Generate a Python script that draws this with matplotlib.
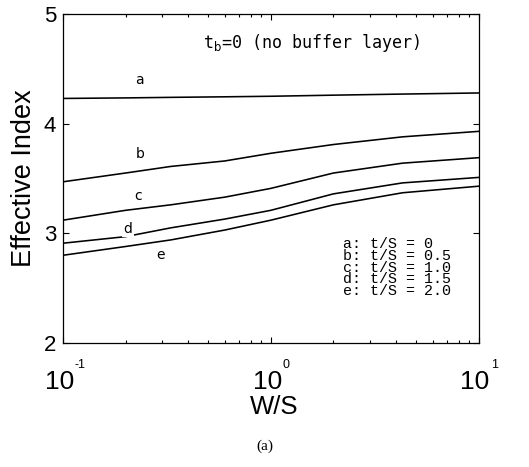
import matplotlib
matplotlib.use("Agg")
import matplotlib.pyplot as plt
import numpy as np

# W/S sample points and effective index curves
ws = [0.1, 0.2, 0.33, 0.6, 1.0, 2.0, 4.3, 10.0]
n_a = [4.23, 4.235, 4.24, 4.245, 4.25, 4.26, 4.27, 4.28]
n_b = [3.47, 3.55, 3.61, 3.66, 3.73, 3.81, 3.88, 3.93]
n_c = [3.12, 3.21, 3.26, 3.33, 3.41, 3.55, 3.64, 3.69]
n_d = [2.91, 2.97, 3.05, 3.13, 3.21, 3.36, 3.46, 3.51]
n_e = [2.80, 2.88, 2.94, 3.03, 3.12, 3.26, 3.37, 3.43]
curves = [n_a, n_b, n_c, n_d, n_e]

labels = ["a", "b", "c", "d", "e"]
label_x = [0.234, 0.234, 0.229, 0.205, 0.293]
label_y = [4.40, 3.72, 3.34, 3.04, 2.80]

legend_lines = ["a: t/S = 0", "b: t/S = 0.5", "c: t/S = 1.0",
                "d: t/S = 1.5", "e: t/S = 2.0"]

x_ticks = [0.1, 1, 10]
x_exps = ["-1", "0", "1"]
y_ticks = [2, 3, 4, 5]

plt.rcParams['font.family'] = ['Liberation Sans', 'DejaVu Sans']

fig = plt.figure(figsize=(5.29, 4.67), dpi=100)
ax = fig.add_axes([0.119, 0.2655, 0.786, 0.7045])

for n in curves:
    ax.plot(ws, n, color='black', lw=1.15)

for lab, x, y in zip(labels, label_x, label_y):
    bg = dict(facecolor='white', edgecolor='none', pad=1) if lab == "d" else None
    ax.text(x, y, lab, fontsize=10, ha='center', va='center',
            family='DejaVu Sans', bbox=bg)

ax.text(1.57, 4.735, r"t$_\mathrm{b}$=0 (no buffer layer)", fontsize=12,
        ha='center', va='center', family='DejaVu Sans Mono')

ax.text(2.22, 2.967, "\n".join(legend_lines), fontsize=10.8,
        ha='left', va='top', multialignment='left',
        family='Liberation Mono', linespacing=0.8)

ax.set_xscale('log')
ax.set_xlim(0.1, 10)
ax.set_ylim(2, 5)
ax.set_xticks(x_ticks)
ax.set_xticklabels([])
ax.set_yticks(y_ticks)

# x tick labels as "10" with a small raised exponent
xt = ax.get_xaxis_transform()
px = 72 / 100  # points per pixel
for v, e in zip(x_ticks, x_exps):
    ax.annotate("10", xy=(v, 0), xycoords=xt,
                xytext=(11 * px, -46 * px), textcoords='offset points',
                ha='right', va='baseline', fontsize=19)
    ax.annotate(e, xy=(v, 0), xycoords=xt,
                xytext=(12 * px, -25 * px), textcoords='offset points',
                ha='left', va='baseline', fontsize=9)

ax.set_xlabel("W/S", fontsize=18.5)
ax.xaxis.set_label_coords(0.507, -0.158)
ax.set_ylabel("Effective Index", fontsize=19.5)
ax.yaxis.set_label_coords(-0.0625, 0.5)

for s in ax.spines.values():
    s.set_linewidth(0.9)
ax.tick_params(which='both', direction='in', top=True, right=True, width=0.8)
ax.tick_params(axis='y', labelsize=16, pad=5)
ax.tick_params(which='major', length=4)
ax.tick_params(which='minor', length=2)

fig.text(0.5, 0.045, "(a)", fontsize=11, ha='center', va='center',
         family='Liberation Serif')

fig.savefig("out.png", dpi=100)
